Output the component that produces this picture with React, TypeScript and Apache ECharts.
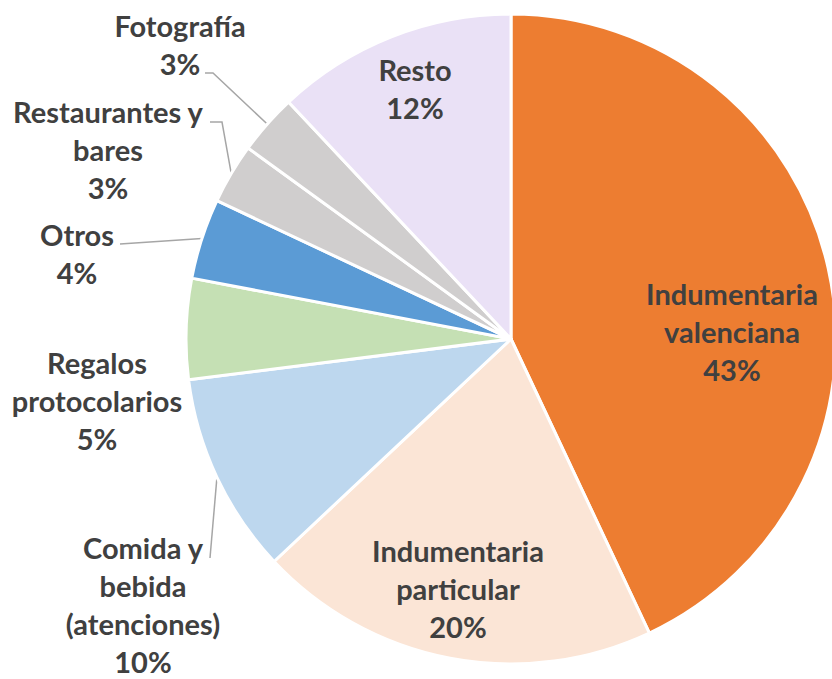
import React, { useEffect, useRef } from "react";
import * as echarts from "echarts";

const categories = [
  "Indumentaria\nvalenciana",
  "Indumentaria\nparticular",
  "Comida y\nbebida\n(atenciones)",
  "Regalos\nprotocolarios",
  "Otros",
  "Restaurantes y\nbares",
  "Fotografía",
  "Resto",
];
const values = [43, 20, 10, 5, 4, 3, 3, 12];
const colors = ["#ED7D31", "#FBE5D6", "#BDD7EE", "#C5E0B4", "#5B9BD5", "#D0CECE", "#D0CECE", "#EAE1F6"];

// label layout (positions only, by slice index)
const insideSet = [true, true, false, false, false, false, false, true];
const labelCenters: number[][] = [
  [732, 331],
  [458, 588],
  [143, 604],
  [97, 400],
  [77, 253],
  [108, 149],
  [180, 44],
  [415, 88],
];
const linePoints: (number[][] | null)[] = [
  null,
  null,
  [[210, 558], [210, 558]],
  null,
  [[120, 244], [120, 244]],
  [[222, 122], [210, 122]],
  [[213, 73], [205, 73]],
  null,
];

export default function App() {
  const ref = useRef<HTMLDivElement>(null);
  useEffect(() => {
    if (!ref.current) return;
    const chart = echarts.init(ref.current, null, { renderer: "svg" });
    const data = categories.map((name, i) => ({
      name,
      value: values[i],
      itemStyle: { color: colors[i] },
      label: { position: insideSet[i] ? "inside" : "outside" },
      labelLine: { show: !insideSet[i] && linePoints[i] !== null },
    }));
    chart.setOption({
      animation: false,
      backgroundColor: "#ffffff",
      series: [
        {
          type: "pie",
          center: [511, 339],
          radius: [0, 325],
          startAngle: 90,
          clockwise: true,
          avoidLabelOverlap: false,
          itemStyle: { borderColor: "#ffffff", borderWidth: 3 },
          label: {
            show: true,
            formatter: (p: any) => `${p.name}\n${Math.round(p.percent)}%`,
            fontFamily: "Lato",
            fontWeight: "bold",
            fontSize: 29,
            lineHeight: 38,
            color: "#404040",
            align: "center",
          },
          labelLine: {
            show: true,
            lineStyle: { color: "#A6A6A6", width: 1.5 },
          },
          labelLayout: (params: any) => {
            const i = params.dataIndex;
            const c = labelCenters[i];
            const res: any = { x: c[0], y: c[1], align: "center", verticalAlign: "middle", hideOverlap: false };
            const lp = linePoints[i];
            if (lp && params.labelLinePoints) {
              res.labelLinePoints = [params.labelLinePoints[0], lp[0], lp[1]];
            }
            return res;
          },
          data,
        },
      ],
    });
    return () => chart.dispose();
  }, []);
  return (
    <div
      ref={ref}
      style={{ position: "fixed", left: 0, top: 0, width: 832, height: 679 }}
    />
  );
}
